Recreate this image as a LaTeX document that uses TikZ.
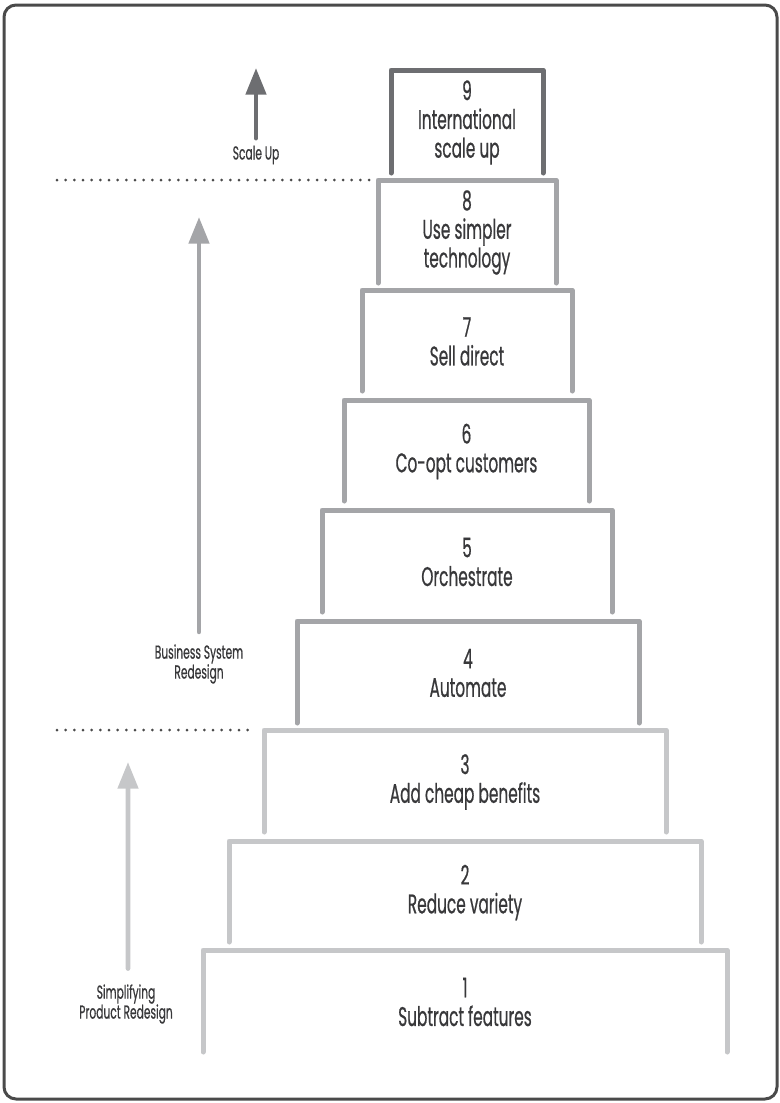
\documentclass[tikz,border=0pt]{standalone}
\usepackage{fontspec}
\setmainfont{Poppins}[FakeStretch=0.57, FakeBold=0.6]
\usepackage{tikz}
\usetikzlibrary{arrows.meta}

\definecolor{stepdark}{HTML}{6D6E71}
\definecolor{stepmid}{HTML}{A4A5A8}
\definecolor{steplite}{HTML}{C6C7C9}
\definecolor{inkgray}{HTML}{38383A}
\definecolor{framegray}{HTML}{4A4A4A}

\tikzset{
  stepline/.style={line width=1.5mm, line cap=round, line join=round},
  steptext/.style={align=center, text=inkgray, font=\fontsize{23}{24.5}\selectfont},
  sidetext/.style={align=center, text=inkgray, font=\fontsize{16}{17}\selectfont},
  phasearrow/.style={line width=1.4mm, line cap=round, -{Triangle[width=6mm,length=8mm]}},
  divider/.style={framegray, line width=0.9mm, line cap=round, dash pattern=on 0pt off 2.6mm}
}

\begin{document}
\begin{tikzpicture}[x=0.3mm, y=-0.3mm]
  \useasboundingbox (0,0) rectangle (780,1103);
  \draw[framegray, line width=0.9mm, rounded corners=3.6mm] (4,5) rectangle (777,1099);

  % the nine steps
  \foreach \i/\l/\t/\r/\b/\c/\txt in {
      1/203/950/727/1052/steplite/{Subtract features},
      2/229/841/701/942/steplite/{Reduce variety},
      3/264/730/666/832/steplite/{Add cheap benefits},
      4/297/621/639/723/stepmid/{Automate},
      5/322/510/612/612/stepmid/{Orchestrate},
      6/344/400/589/501/stepmid/{Co-opt customers},
      7/362/290/572/391/stepmid/{Sell direct},
      8/378/180/556/283/stepmid/{Use simpler\\technology},
      9/391/70/543/173/stepdark/{International\\scale up}} {
    \draw[stepline, \c] (\l,\b) -- (\l,\t) -- (\r,\t) -- (\r,\b);
    \node[steptext] (step\i) at ({(\l+\r)/2},{(\t+\b)/2+1}) {\i\\\txt};
  }

  % phase dividers
  \coordinate (divtopA) at (57,180);
  \coordinate (divtopB) at (370,180);
  \coordinate (divlowA) at (57,730);
  \coordinate (divlowB) at (256,730);
  \draw[divider] (divtopA) -- (divtopB);
  \draw[divider] (divlowA) -- (divlowB);

  % phase labels and arrows
  \node[sidetext] (scaleup) at (256,155) {Scale Up};
  \node[sidetext] (bizsys) at (199,664) {Business System\\Redesign};
  \node[sidetext] (prodred) at (126,1004) {Simplifying\\Product Redesign};
  \coordinate (scaletip) at (256,68);
  \coordinate (biztip) at (199,217);
  \coordinate (prodtip) at (128,762);
  \draw[phasearrow, stepdark] ([yshift=1mm]scaleup.north) -- (scaletip);
  \draw[phasearrow, stepmid] ([yshift=2.5mm]bizsys.north) -- (biztip);
  \draw[phasearrow, steplite] ([xshift=0.6mm, yshift=3.5mm]prodred.north) -- (prodtip);
\end{tikzpicture}
\end{document}
